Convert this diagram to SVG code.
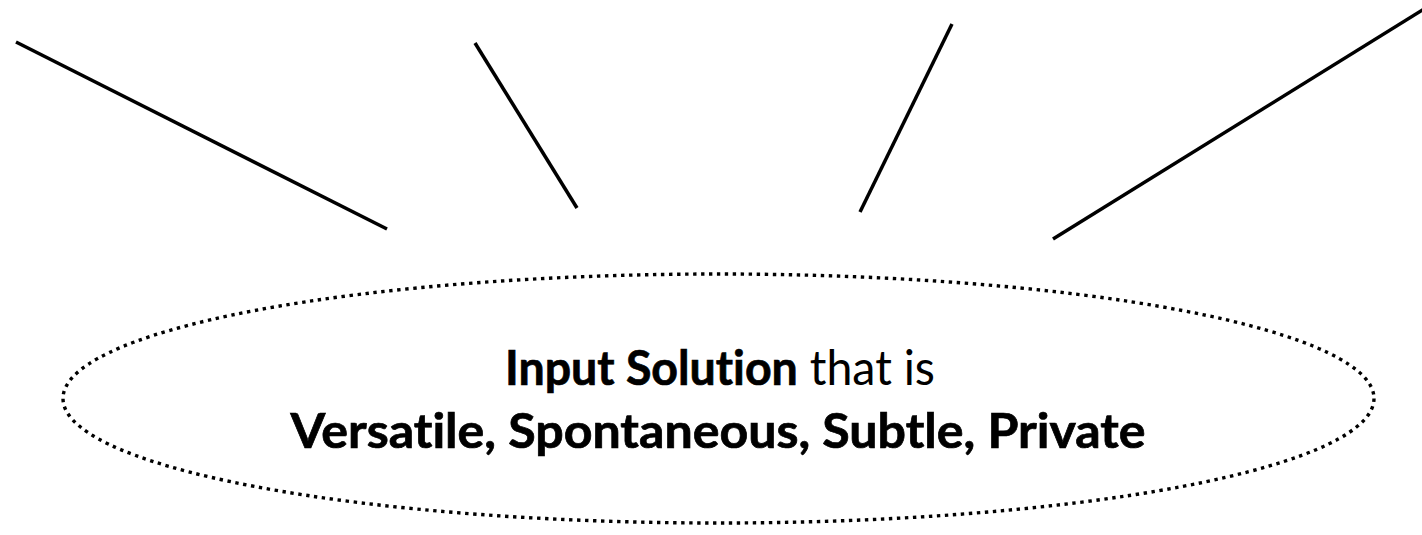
<svg xmlns="http://www.w3.org/2000/svg" width="1422" height="535" viewBox="0 0 1422 535">
  <style>
    .ray { stroke: #000; stroke-width: 3.5; fill: none; }
    .outline { fill: none; stroke: #000; stroke-width: 3.4; stroke-dasharray: 3.4 4.6; }
    .label { font-family: Lato, "Open Sans", "Liberation Sans", sans-serif; font-size: 48px; fill: #000; text-anchor: middle; font-variant-ligatures: none; }
    .b { font-weight: bold; stroke: #000; stroke-width: 0.7; }
    .r { font-weight: normal; stroke: none; }
  </style>
  <rect width="1422" height="535" fill="#fff"/>
  <g id="connectors">
    <line class="ray" x1="16" y1="42" x2="387" y2="229"/>
    <line class="ray" x1="475" y1="43" x2="577" y2="208"/>
    <line class="ray" x1="952" y1="24" x2="860" y2="212"/>
    <line class="ray" x1="1053" y1="239" x2="1424" y2="9"/>
  </g>
  <g id="input-solution">
    <ellipse class="outline" cx="718.5" cy="398.5" rx="655.5" ry="124.5"/>
    <text class="label" x="720" y="385" textLength="430" lengthAdjust="spacingAndGlyphs"><tspan class="b">Input Solution</tspan><tspan class="r"> that is</tspan></text>
    <text class="label b" x="718" y="448" textLength="855" lengthAdjust="spacingAndGlyphs">Versatile, Spontaneous, Subtle, Private</text>
  </g>
</svg>
